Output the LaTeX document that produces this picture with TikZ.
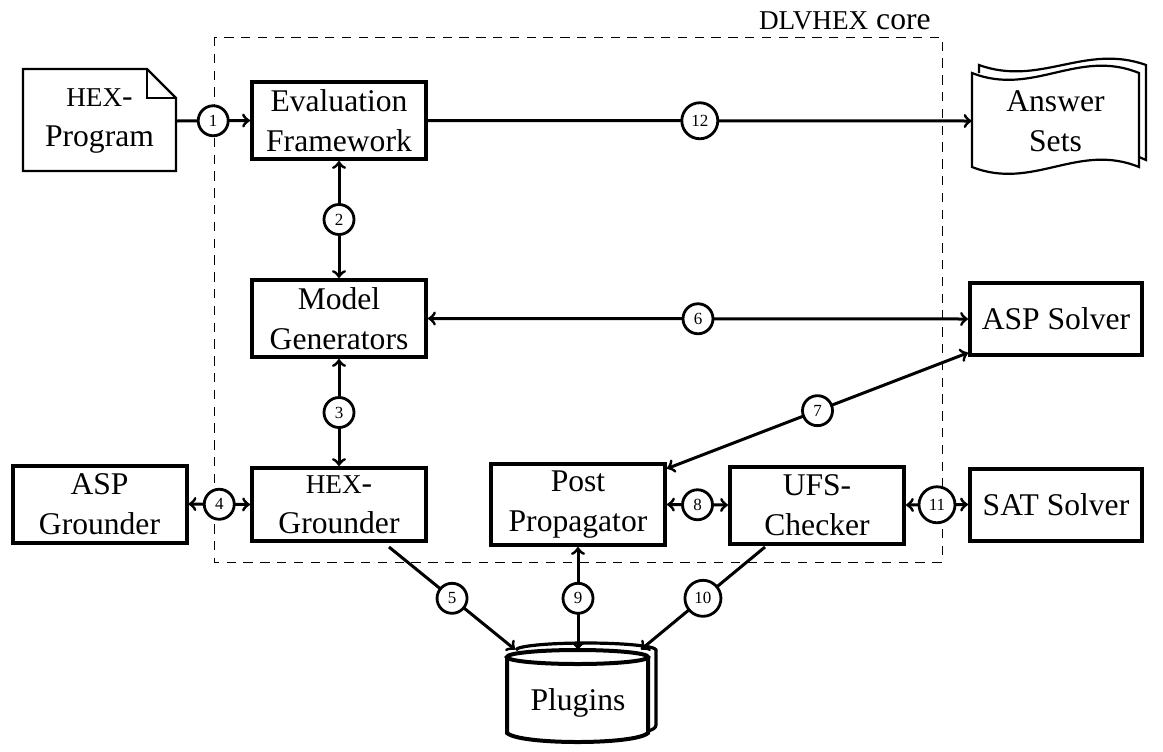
\documentclass[tikz,border=0pt]{standalone}
\usepackage{fontspec}
\setmainfont{Liberation Serif}
\newcommand{\smallname}[1]{{\fontsize{13.6}{20}\selectfont #1}}
\tikzset{
  block/.style={draw, line width=2pt, inner sep=0pt, minimum width=87pt, minimum height=38.5pt, align=center, font=\fontsize{15.8}{20}\selectfont},
  plain/.style={inner sep=0pt, align=center, font=\fontsize{15.8}{20}\selectfont},
  link/.style={line width=1.5pt},
  num/.style={draw, circle, fill=white, line width=1.4pt, inner sep=0pt, minimum size=15pt, font=\fontsize{8.5}{10}\selectfont},
  numwide/.style={num, minimum size=18pt}
}
\begin{document}
\begin{tikzpicture}[x=.5pt, y=-.5pt]
\useasboundingbox (0, 0) rectangle (1163, 751);

\draw[line width=.5pt, dash pattern=on 4.7pt off 3.7pt] (214, 37) rectangle (942, 562);
\node[anchor=base east, inner sep=0pt, font=\fontsize{15.8}{20}\selectfont] (core) at (931, 29) {\smallname{DLVHEX} core};

\draw[line width=1.2pt] (23, 69) -- (147, 69) -- (176, 98) -- (176, 171) -- (23, 171) -- cycle;
\draw[line width=1pt] (147, 69) -- (147, 98) -- (176, 98);

\draw[line width=1.1pt] (979, 73) -- (979, 65) .. controls (1040, 87) and (1085, 43) .. (1146, 65) -- (1146, 160) -- (1139, 157);
\draw[line width=1.1pt] (972, 73) .. controls (1033, 97) and (1078, 48) .. (1139, 73) -- (1139, 167) .. controls (1078, 142) and (1033, 191) .. (972, 167) -- cycle;

\draw[line width=1.6pt] (516, 650) arc[start angle=180, end angle=0, x radius=70, y radius=-7] -- (656, 725) .. controls (656, 728) and (652, 730) .. (648, 731);
\draw[line width=2pt, fill=white] (507, 657) -- (507, 733) .. controls (520, 745) and (635, 745) .. (648, 733) -- (648, 657);
\draw[line width=2pt, fill=white] (577.5, 657) ellipse[x radius=70.5, y radius=7];

\node[plain, minimum width=76.5pt, minimum height=51pt] (program) at (99.5, 121) {\smallname{HEX}-\\Program};
\node[block] (eval) at (339, 120.5) {Evaluation\\Framework};
\node[plain, minimum width=83.5pt, minimum height=47pt] (answer) at (1055.5, 121) {Answer\\Sets};
\node[block] (model) at (339, 318.5) {Model\\Generators};
\node[block, minimum width=86pt, minimum height=36pt] (aspsolver) at (1056, 319) {ASP Solver};
\node[block] (aspground) at (99.5, 504) {ASP\\Grounder};
\node[block, minimum height=36.5pt] (hexground) at (339, 504.5) {\smallname{HEX}-\\Grounder};
\node[block, minimum height=40.5pt] (post) at (578, 504.5) {Post\\Propagator};
\node[block] (ufs) at (817, 505) {UFS-\\Checker};
\node[block, minimum width=86pt, minimum height=36pt] (satsolver) at (1056, 504.5) {SAT Solver};
\node[plain, minimum width=62.5pt, minimum height=53pt] (plugins) at (578, 703) {Plugins};

\coordinate (hexfoot) at (389, 547);
\coordinate (ufsfoot) at (765, 547);

\draw[link, ->] (program.east) -- node[num] {1} (eval.west);
\draw[link, <->] (eval.south) -- node[num] {2} (model.north);
\draw[link, <->] (model.south) -- node[num] {3} (hexground.north);
\draw[link, <->] (aspground.east) -- node[num] {4} (hexground.west);
\draw[link, ->] (hexfoot) -- node[num] {5} (plugins.north west);
\draw[link, <->] (model.east) -- node[num] {6} (aspsolver.west);
\draw[link, <->] (aspsolver.201) -- node[num] {7} (post.22);
\draw[link, <->] (post.east) -- node[num] {8} (ufs.west);
\draw[link, <->] (post.south) -- node[num] {9} (plugins.north);
\draw[link, ->] (ufsfoot) -- node[numwide] {10} (plugins.north east);
\draw[link, <->] (ufs.east) -- node[numwide] {11} (satsolver.west);
\draw[link, ->] (eval.east) -- node[numwide] {12} (answer.west);

\end{tikzpicture}
\end{document}
